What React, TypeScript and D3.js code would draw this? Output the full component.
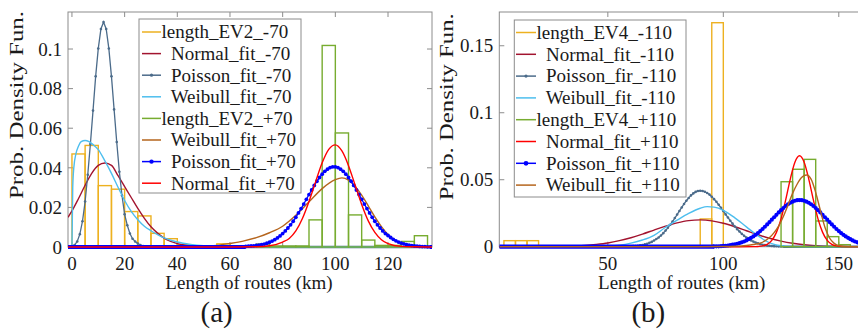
import React from "react";
import * as d3 from "d3";

const FONT = "'Liberation Serif', 'Times New Roman', Times, serif";
const TEXT = "#1a1a1a";
const AXIS = "#8c8c8c";

const ORANGE = "#EDB120";
const DARKRED = "#A2142F";
const SLATE = "#4b6b8a";
const LIGHTBLUE = "#4DBEEE";
const GREEN = "#77AC30";
const BROWN = "#B5651D";
const BLUE = "#0000FF";
const RED = "#FF0000";

// ---------------- panel (a) ----------------
const xTicksA = [0, 20, 40, 60, 80, 100, 120];
const yTicksA = [0, 0.02, 0.04, 0.06, 0.08, 0.1];
const yTickLabelsA = ["0", "0.02", "0.04", "0.06", "0.08", "0.1"];

// histogram bins (left edge, width 5 km)
const binsEV2m70 = [0, 5, 10, 15, 20, 25, 30, 35, 40, 45, 50, 55];
const histEV2m70 = [0.047, 0.0513, 0.031, 0.0292, 0.0179, 0.0157, 0.0069, 0.0042, 0.0012, 0.0006, 0.0006, 0.0016];
const binsEV2p70 = [70, 75, 80, 85, 90, 95, 100, 105, 110, 115, 120, 125, 130];
const histEV2p70 = [0.0015, 0.0005, 0.0005, 0.0005, 0.0137, 0.1018, 0.0576, 0.0162, 0.0035, 0.0008, 0.0008, 0.0028, 0.0057];

const normalM70X = [-1.5, 0, 2.5, 5, 7.5, 10, 12.5, 15, 17.5, 20, 22.5, 25, 27.5, 30, 32.5, 35, 37.5, 40, 45, 50, 55, 137];
const normalM70Y = [0.015, 0.0182, 0.0245, 0.0312, 0.0372, 0.0412, 0.0424, 0.0412, 0.036, 0.0305, 0.025, 0.0195, 0.0145, 0.0102, 0.007, 0.0045, 0.0028, 0.0017, 0.0006, 0.0002, 0, 0];

const poissonM70Start = 0;
const poissonM70 = [0.0003, 0.001, 0.0028, 0.0065, 0.013, 0.023, 0.0365, 0.052, 0.0689, 0.0862, 0.1003, 0.1101, 0.1136, 0.1101, 0.1003, 0.0862, 0.0695, 0.053, 0.038, 0.026, 0.0165, 0.011, 0.0068, 0.0042, 0.0028, 0.0018, 0.001, 0.0005, 0.0002];

const weibullM70X = [0, 0.3, 0.7, 1.5, 2.5, 3.5, 5, 6.5, 8, 10, 12.5, 15, 17.5, 20, 22.5, 25, 27.5, 30, 32.5, 35, 40, 45, 50, 60, 70, 137];
const weibullM70Y = [0, 0.03, 0.04, 0.047, 0.051, 0.0532, 0.0538, 0.0532, 0.0517, 0.0492, 0.0435, 0.0372, 0.0302, 0.0235, 0.018, 0.0138, 0.0105, 0.0082, 0.0062, 0.0046, 0.0025, 0.0013, 0.0006, 0.0001, 0, 0];

const weibullP70X = [-1.5, 40, 50, 55, 60, 65, 70, 75, 80, 85, 90, 95, 100, 102.5, 105, 107.5, 110, 112.5, 115, 117.5, 120, 122.5, 125, 130, 137];
const weibullP70Y = [0, 0, 0.0003, 0.0008, 0.0018, 0.003, 0.0047, 0.0072, 0.0105, 0.016, 0.0228, 0.0295, 0.034, 0.0349, 0.0338, 0.0306, 0.0262, 0.0208, 0.0152, 0.0103, 0.0063, 0.0035, 0.0018, 0.0004, 0];

const poissonP70Start = 66;
const poissonP70 = [
  0.0003, 0.0004, 0.0005, 0.0006, 0.0008, 0.0009, 0.0012, 0.0015, 0.0019, 0.0024,
  0.003, 0.0037, 0.0046, 0.0056, 0.0068, 0.0081, 0.0096, 0.0112, 0.013, 0.015,
  0.0172, 0.0194, 0.0217, 0.0241, 0.0265, 0.0288, 0.0311, 0.0332, 0.0351, 0.0368,
  0.0382, 0.0393, 0.0401, 0.0405, 0.0405, 0.0401, 0.0393, 0.0382, 0.0368, 0.0351,
  0.0332, 0.0311, 0.0288, 0.0265, 0.0241, 0.0217, 0.0194, 0.0172, 0.015, 0.013,
  0.0112, 0.0096, 0.0081, 0.0068, 0.0058, 0.0048, 0.0039, 0.0031, 0.0025, 0.002,
  0.0016, 0.0012, 0.0009, 0.0007, 0.0005, 0.0004, 0.0003, 0.0002, 0.0002, 0.0001, 0.0001,
];

const normalP70X = [-1.5, 50, 60, 70, 75, 80, 82.5, 85, 87.5, 90, 92.5, 95, 97.5, 100, 102.5, 105, 107.5, 110, 112.5, 115, 117.5, 120, 125, 130, 137];
const normalP70Y = [0, 0, 0, 0.0001, 0.0006, 0.0025, 0.0043, 0.0081, 0.0144, 0.023, 0.0329, 0.0425, 0.0493, 0.0516, 0.0485, 0.0411, 0.0313, 0.0215, 0.0132, 0.0074, 0.0037, 0.0017, 0.0003, 0.0001, 0];

// ---------------- panel (b) ----------------
const xTicksB = [50, 100, 150];
const yTicksB = [0, 0.05, 0.1, 0.15];
const yTickLabelsB = ["0", "0.05", "0.1", "0.15"];

const binsEV4m110 = [5, 10, 15, 90, 95];
const histEV4m110 = [0.0045, 0.0045, 0.0045, 0.0207, 0.1672];
const binsEV4p110 = [125, 130, 135, 140, 145, 150];
const histEV4p110 = [0.0485, 0.0578, 0.0652, 0.0192, 0.0075, 0.0015];

const normalM110X = [3, 20, 30, 40, 45, 50, 55, 60, 65, 70, 75, 80, 85, 90, 95, 100, 105, 110, 115, 120, 125, 130, 135, 140, 150, 160, 163];
const normalM110Y = [0, 0.0001, 0.0002, 0.0009, 0.0017, 0.0028, 0.0045, 0.0067, 0.0094, 0.0124, 0.0153, 0.0178, 0.0195, 0.02, 0.0193, 0.0175, 0.0149, 0.0119, 0.0089, 0.0063, 0.0042, 0.0026, 0.0015, 0.0008, 0.0002, 0, 0];

const poissonM110Start = 60;
const poissonM110 = [
  0.0003, 0.0004, 0.0005, 0.0007, 0.001, 0.0013, 0.0017, 0.0022, 0.0029, 0.0036,
  0.0046, 0.0057, 0.0069, 0.0084, 0.0101, 0.012, 0.0141, 0.0164, 0.0188, 0.0214,
  0.024, 0.0267, 0.0293, 0.0319, 0.0343, 0.0364, 0.0383, 0.0398, 0.0409, 0.0416,
  0.0418, 0.0416, 0.041, 0.0401, 0.0389, 0.0373, 0.0355, 0.0335, 0.0313, 0.029,
  0.0266, 0.0241, 0.0218, 0.0194, 0.0172, 0.0151, 0.0131, 0.0113, 0.0096, 0.0081,
  0.0068, 0.0057, 0.0047, 0.0038, 0.0031, 0.0025, 0.0019, 0.0015, 0.0012, 0.0009,
  0.0007, 0.0005, 0.0004, 0.0003, 0.0002, 0.0002, 0.0001,
];

const weibullM110X = [3, 40, 45, 50, 55, 60, 65, 70, 75, 77.5, 80, 85, 90, 93, 96, 100, 105, 110, 115, 118, 121, 125, 130, 135, 163];
const weibullM110Y = [0, 0, 0.0002, 0.0005, 0.0012, 0.0027, 0.005, 0.0085, 0.0145, 0.0172, 0.0198, 0.0248, 0.0287, 0.0299, 0.0295, 0.0272, 0.0215, 0.0148, 0.0082, 0.0048, 0.0023, 0.0007, 0.0001, 0, 0];

const normalP110X = [3, 100, 113, 115, 117, 119, 121, 123, 125, 127, 129, 131, 133, 135, 137, 139, 141, 143, 145, 147, 149, 151, 153, 163];
const normalP110Y = [0, 0, 0.00004, 0.0002, 0.0006, 0.0018, 0.0047, 0.0107, 0.0208, 0.0349, 0.0505, 0.0631, 0.0679, 0.0631, 0.0505, 0.0349, 0.0208, 0.0107, 0.0047, 0.0018, 0.0006, 0.0002, 0.00004, 0];

const poissonP110Start = 96;
const poissonP110 = [
  0.0002, 0.0003, 0.0003, 0.0004, 0.0006, 0.0007, 0.0009, 0.0012, 0.0015, 0.0018,
  0.0022, 0.0027, 0.0033, 0.0039, 0.0047, 0.0056, 0.0066, 0.0077, 0.0089, 0.0102,
  0.0117, 0.0132, 0.0149, 0.0166, 0.0184, 0.0202, 0.022, 0.0238, 0.0256, 0.0273,
  0.0289, 0.0304, 0.0317, 0.0328, 0.0336, 0.0343, 0.0347, 0.0348, 0.0347, 0.0343,
  0.0336, 0.0328, 0.0317, 0.0304, 0.0289, 0.0273, 0.0256, 0.0238, 0.022, 0.0202,
  0.0184, 0.0166, 0.0149, 0.0132, 0.0117, 0.0102, 0.0089, 0.0077, 0.0066, 0.0056,
  0.0047, 0.0039, 0.0033, 0.0027, 0.0022, 0.0018, 0.0015, 0.0012, 0.0009, 0.0007,
];

const weibullP110X = [3, 90, 100, 105, 110, 113, 116, 118, 120, 122, 124, 126, 128, 130, 132, 134, 136, 138, 140, 142, 144, 146, 148, 150, 153, 156, 163];
const weibullP110Y = [0, 0, 0.0001, 0.0003, 0.0009, 0.0016, 0.0027, 0.0043, 0.0068, 0.0105, 0.0155, 0.0225, 0.031, 0.0398, 0.0468, 0.0518, 0.0535, 0.0505, 0.0405, 0.0272, 0.0145, 0.0065, 0.0025, 0.0008, 0.0001, 0, 0];

type Series =
  | { kind: "hist"; label: string; color: string; left: number[]; h: number[] }
  | { kind: "curve"; label: string; color: string; x: number[]; y: number[] }
  | { kind: "pmf"; label: string; color: string; start: number; y: number[]; r: number };

const seriesA: Series[] = [
  { kind: "hist", label: "length_EV2_-70", color: ORANGE, left: binsEV2m70, h: histEV2m70 },
  { kind: "curve", label: "  Normal_fit_-70", color: DARKRED, x: normalM70X, y: normalM70Y },
  { kind: "pmf", label: "  Poisson_fit_-70", color: SLATE, start: poissonM70Start, y: poissonM70, r: 1.3 },
  { kind: "curve", label: "  Weibull_fit_-70", color: LIGHTBLUE, x: weibullM70X, y: weibullM70Y },
  { kind: "hist", label: "length_EV2_+70", color: GREEN, left: binsEV2p70, h: histEV2p70 },
  { kind: "curve", label: "  Weibull_fit_+70", color: BROWN, x: weibullP70X, y: weibullP70Y },
  { kind: "pmf", label: "  Poisson_fit_+70", color: BLUE, start: poissonP70Start, y: poissonP70, r: 1.9 },
  { kind: "curve", label: "  Normal_fit_+70", color: RED, x: normalP70X, y: normalP70Y },
];

const seriesB: Series[] = [
  { kind: "hist", label: "length_EV4_-110", color: ORANGE, left: binsEV4m110, h: histEV4m110 },
  { kind: "curve", label: "  Normal_fit_-110", color: DARKRED, x: normalM110X, y: normalM110Y },
  { kind: "pmf", label: "  Poisson_fir_-110", color: SLATE, start: poissonM110Start, y: poissonM110, r: 1.3 },
  { kind: "curve", label: "  Weibull_fit_-110", color: LIGHTBLUE, x: weibullM110X, y: weibullM110Y },
  { kind: "hist", label: "length_EV4_+110", color: GREEN, left: binsEV4p110, h: histEV4p110 },
  { kind: "curve", label: "  Normal_fit_+110", color: RED, x: normalP110X, y: normalP110Y },
  { kind: "pmf", label: "  Poisson_fit_+110", color: BLUE, start: poissonP110Start, y: poissonP110, r: 2.1 },
  { kind: "curve", label: "  Weibull_fit_+110", color: BROWN, x: weibullP110X, y: weibullP110Y },
];

type PanelCfg = {
  id: string;
  left: number; right: number; top: number; bottom: number;
  xDomain: [number, number]; yDomain: [number, number];
  xTicks: number[]; yTicks: number[]; yTickLabels: string[];
  series: Series[];
  legend: { x: number; y: number; w: number; h: number; row0: number; step: number; lx0: number; lx1: number };
  yLabelX: number; yLabelY: number; yLabelLen: number;
  xLabelX: number; caption: string; captionX: number; rightAxis: boolean;
};

function Panel({ cfg }: { cfg: PanelCfg }) {
  const { left, right, top, bottom } = cfg;
  const x = d3.scaleLinear().domain(cfg.xDomain).range([left, right]);
  const y = d3.scaleLinear().domain(cfg.yDomain).range([bottom, top]);
  const smooth = d3.line<[number, number]>().x((d) => x(d[0])).y((d) => y(d[1])).curve(d3.curveMonotoneX);
  const straight = d3.line<[number, number]>().x((d) => x(d[0])).y((d) => y(d[1]));
  const [xd0, xd1] = cfg.xDomain;
  const clipId = `clip-${cfg.id}`;
  const lg = cfg.legend;

  const drawSeries = (s: Series, i: number) => {
    if (s.kind === "hist") {
      return (
        <g key={i}>
          {s.left.map((l, j) => (
            <rect key={j} x={x(l)} y={y(s.h[j])} width={x(l + 5) - x(l)} height={y(0) - y(s.h[j])}
              fill="none" stroke={s.color} strokeWidth={1.4} />
          ))}
        </g>
      );
    }
    if (s.kind === "curve") {
      const pts = s.x.map((v, j) => [v, s.y[j]] as [number, number]);
      return <path key={i} d={smooth(pts) || ""} fill="none" stroke={s.color} strokeWidth={1.4} />;
    }
    const pts = s.y.map((v, j) => [s.start + j, v] as [number, number]);
    const last = s.start + s.y.length - 1;
    return (
      <g key={i}>
        <path d={straight([[xd0, 0], ...pts, [xd1, 0]]) || ""} fill="none" stroke={s.color} strokeWidth={1.3} />
        <path d={straight([[xd0, 0], [s.start, 0]]) || ""} stroke={s.color} strokeWidth={s.r * 2} />
        <path d={straight([[last, 0], [xd1, 0]]) || ""} stroke={s.color} strokeWidth={s.r * 2} />
        {pts.map((p, j) => (
          <circle key={j} cx={x(p[0])} cy={y(p[1])} r={s.r} fill={s.color} />
        ))}
      </g>
    );
  };

  return (
    <g fontFamily={FONT} fill={TEXT}>
      <defs>
        <clipPath id={clipId}>
          <rect x={left} y={top} width={right - left} height={bottom - top + 3} />
        </clipPath>
      </defs>
      <rect x={left} y={top} width={right - left} height={bottom - top} fill="none" stroke={AXIS} strokeWidth={1} />
      {cfg.yTicks.map((t, i) => (
        <g key={"y" + i}>
          <line x1={left} x2={left + 5} y1={y(t)} y2={y(t)} stroke={AXIS} />
          {cfg.rightAxis && <line x1={right - 5} x2={right} y1={y(t)} y2={y(t)} stroke={AXIS} />}
          <text x={left - 6} y={y(t) + 6.7} fontSize={19} textAnchor="end">{cfg.yTickLabels[i]}</text>
        </g>
      ))}
      {cfg.xTicks.map((t, i) => (
        <g key={"x" + i}>
          <line x1={x(t)} x2={x(t)} y1={top} y2={top + 5} stroke={AXIS} />
          <line x1={x(t)} x2={x(t)} y1={bottom} y2={bottom - 5} stroke={AXIS} />
          <text x={x(t)} y={269.5} fontSize={19} textAnchor="middle">{t}</text>
        </g>
      ))}
      <g clipPath={`url(#${clipId})`}>{cfg.series.map(drawSeries)}</g>

      <rect x={lg.x} y={lg.y} width={lg.w} height={lg.h} fill="#fff" stroke={AXIS} strokeWidth={1} />
      {cfg.series.map((s, i) => {
        const ry = lg.row0 + i * lg.step;
        const mid = (lg.lx0 + lg.lx1) / 2;
        return (
          <g key={"l" + i}>
            <line x1={lg.lx0} x2={lg.lx1} y1={ry} y2={ry} stroke={s.color} strokeWidth={1.5} />
            {s.kind === "pmf" && <circle cx={mid} cy={ry} r={s.r + 0.3} fill={s.color} />}
            <text x={lg.lx1 + 0.5} y={ry + 6.3} fontSize={19} xmlSpace="preserve" style={{ whiteSpace: "pre" }}>
              {s.label}
            </text>
          </g>
        );
      })}

      <text transform={`translate(${cfg.yLabelX},${cfg.yLabelY}) rotate(-90)`} fontSize={19} textAnchor="middle"
        textLength={cfg.yLabelLen} lengthAdjust="spacingAndGlyphs">
        Prob. Density Fun.
      </text>
      <text x={cfg.xLabelX} y={289} fontSize={19} textAnchor="middle">Length of routes (km)</text>
      <text x={cfg.captionX} y={322} fontSize={29} textAnchor="middle">{cfg.caption}</text>
    </g>
  );
}

const panelA: PanelCfg = {
  id: "a", left: 68, right: 432, top: 12, bottom: 247,
  xDomain: [-1.5, 136.7], yDomain: [0, 0.1187],
  xTicks: xTicksA, yTicks: yTicksA, yTickLabels: yTickLabelsA, series: seriesA,
  legend: { x: 139, y: 19, w: 162, h: 174, row0: 32, step: 21.6, lx0: 142, lx1: 161 },
  yLabelX: 23, yLabelY: 105, yLabelLen: 188,
  xLabelX: 249, caption: "(a)", captionX: 216.7, rightAxis: true,
};

const panelB: PanelCfg = {
  id: "b", left: 499.3, right: 866.5, top: 12, bottom: 246.7,
  xDomain: [3, 162], yDomain: [0, 0.1752],
  xTicks: xTicksB, yTicks: yTicksB, yTickLabels: yTickLabelsB, series: seriesB,
  legend: { x: 514.3, y: 20, w: 171.7, h: 177, row0: 32.5, step: 21.8, lx0: 516, lx1: 536 },
  yLabelX: 452.5, yLabelY: 106.7, yLabelLen: 187,
  xLabelX: 681.7, caption: "(b)", captionX: 648.3, rightAxis: false,
};

export default function App() {
  return (
    <svg width={858} height={329} style={{ position: "absolute", left: 0, top: 0, background: "#fff" }}>
      <rect width={858} height={329} fill="#fff" />
      <Panel cfg={panelA} />
      <Panel cfg={panelB} />
    </svg>
  );
}
